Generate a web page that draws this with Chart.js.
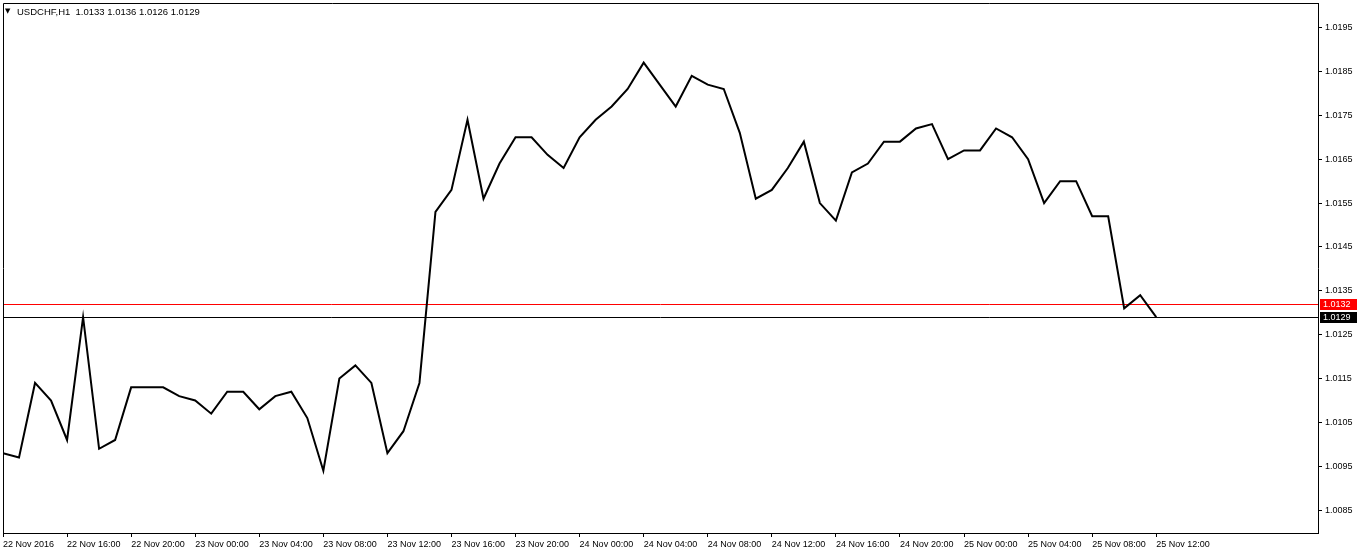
<!DOCTYPE html>
<html>
<head>
<meta charset="utf-8">
<script src="https://cdn.jsdelivr.net/npm/chart.js@4.4.1/dist/chart.umd.min.js"></script>
<style>
html,body{margin:0;padding:0;background:#fff;}
canvas{display:block;}
</style>
</head>
<body>
<canvas id="c" width="1358" height="554"></canvas>
<script>
// ---- data ----
const symbolTitle = 'USDCHF,H1';
const lastOHLC = ['1.0133', '1.0136', '1.0126', '1.0129'];

// hourly closes, 22 Nov 2016 12:00 .. 25 Nov 2016 12:00
const closes = [
  1.0098, 1.0097, 1.0114, 1.0110, 1.0101, 1.0129, 1.0099, 1.0101, 1.0113, 1.0113,
  1.0113, 1.0111, 1.0110, 1.0107, 1.0112, 1.0112, 1.0108, 1.0111, 1.0112, 1.0106,
  1.0094, 1.0115, 1.0118, 1.0114, 1.0098, 1.0103, 1.0114, 1.0153, 1.0158, 1.0174,
  1.0156, 1.0164, 1.0170, 1.0170, 1.0166, 1.0163, 1.0170, 1.0174, 1.0177, 1.0181,
  1.0187, 1.0182, 1.0177, 1.0184, 1.0182, 1.0181, 1.0171, 1.0156, 1.0158, 1.0163,
  1.0169, 1.0155, 1.0151, 1.0162, 1.0164, 1.0169, 1.0169, 1.0172, 1.0173, 1.0165,
  1.0167, 1.0167, 1.0172, 1.0170, 1.0165, 1.0155, 1.0160, 1.0160, 1.0152, 1.0152,
  1.0131, 1.0134, 1.0129
];

const xTickPositions = [0, 4, 8, 12, 16, 20, 24, 28, 32, 36, 40, 44, 48, 52, 56, 60, 64, 68, 72];
const xTickLabels = [
  '22 Nov 2016', '22 Nov 16:00', '22 Nov 20:00', '23 Nov 00:00', '23 Nov 04:00',
  '23 Nov 08:00', '23 Nov 12:00', '23 Nov 16:00', '23 Nov 20:00', '24 Nov 00:00',
  '24 Nov 04:00', '24 Nov 08:00', '24 Nov 12:00', '24 Nov 16:00', '24 Nov 20:00',
  '25 Nov 00:00', '25 Nov 04:00', '25 Nov 08:00', '25 Nov 12:00'
];
const yTickValues = [1.0085, 1.0095, 1.0105, 1.0115, 1.0125, 1.0135, 1.0145, 1.0155, 1.0165, 1.0175, 1.0185, 1.0195];

const askPrice = 1.0132;
const bidPrice = 1.0129;

// ---- chart ----
const FONT = 'Liberation Sans';

const points = closes.map((v, i) => ({ x: i, y: v }));

function noPad(s) {
  s.paddingTop = 0; s.paddingBottom = 0; s.paddingLeft = 0; s.paddingRight = 0;
}

const framePlugin = {
  id: 'frame',
  beforeDatasetsDraw(chart) {
    const { ctx, chartArea: a } = chart;
    const ys = chart.scales.y;
    ctx.save();
    ctx.lineWidth = 1;
    ctx.strokeStyle = '#ff0000';
    let y = Math.round(ys.getPixelForValue(askPrice)) + 0.5;
    ctx.beginPath(); ctx.moveTo(a.left, y); ctx.lineTo(a.right, y); ctx.stroke();
    ctx.strokeStyle = '#000000';
    y = Math.round(ys.getPixelForValue(bidPrice)) + 0.5;
    ctx.beginPath(); ctx.moveTo(a.left, y); ctx.lineTo(a.right, y); ctx.stroke();
    ctx.restore();
  },
  afterDraw(chart) {
    const { ctx, chartArea: a } = chart;
    const ys = chart.scales.y;
    ctx.save();
    // frame top and left
    ctx.strokeStyle = '#000';
    ctx.lineWidth = 1;
    ctx.beginPath();
    ctx.moveTo(Math.round(a.left) + 0.5, Math.round(a.bottom) + 0.5);
    ctx.lineTo(Math.round(a.left) + 0.5, Math.round(a.top) + 0.5);
    ctx.lineTo(Math.round(a.right) + 0.5, Math.round(a.top) + 0.5);
    ctx.stroke();

    // price tags
    const tags = [[askPrice, '#ff0000'], [bidPrice, '#000000']];
    ctx.font = '9px "' + FONT + '"';
    ctx.textBaseline = 'middle';
    ctx.textAlign = 'left';
    for (const [p, col] of tags) {
      const yy = Math.round(ys.getPixelForValue(p));
      ctx.fillStyle = col;
      ctx.fillRect(a.right + 2, yy - 5, 37, 11);
      ctx.fillStyle = '#ffffff';
      ctx.fillText(p.toFixed(4), a.right + 5, yy + 0.5);
    }

    // header
    ctx.fillStyle = '#000000';
    ctx.font = '7px "DejaVu Sans"';
    ctx.textBaseline = 'alphabetic';
    ctx.fillText('\u25BC', 5, 13);
    ctx.font = '9.5px "' + FONT + '"';
    ctx.fillText(symbolTitle + '  ' + lastOHLC.join(' '), 17, 15);
    ctx.restore();
  }
};

new Chart(document.getElementById('c'), {
  type: 'line',
  data: {
    datasets: [{
      data: points,
      borderColor: '#000000',
      borderWidth: 2,
      pointRadius: 0,
      pointHoverRadius: 0,
      tension: 0,
      fill: false
    }]
  },
  options: {
    responsive: false,
    animation: false,
    devicePixelRatio: 1,
    events: [],
    layout: { padding: { left: 3, top: 3, right: 0, bottom: 0 } },
    plugins: {
      legend: { display: false },
      tooltip: { enabled: false },
      title: { display: false }
    },
    scales: {
      x: {
        type: 'linear',
        position: 'bottom',
        min: 0,
        max: 82.1,
        afterBuildTicks: (s) => { s.ticks = xTickPositions.map(v => ({ value: v })); },
        afterFit: (s) => { s.height = 21; noPad(s); },
        grid: { drawOnChartArea: false, drawTicks: true, tickLength: 4, color: '#000', tickColor: '#000' },
        border: { display: true, color: '#000', width: 1 },
        ticks: {
          autoSkip: false,
          maxRotation: 0,
          minRotation: 0,
          align: 'start',
          padding: 2,
          color: '#000',
          font: { family: FONT, size: 9 },
          callback: (v, i) => xTickLabels[i]
        }
      },
      y: {
        type: 'linear',
        position: 'right',
        min: 1.00798,
        max: 1.02006,
        afterBuildTicks: (s) => { s.ticks = yTickValues.map(v => ({ value: v })); },
        afterFit: (s) => { s.width = 40; noPad(s); },
        grid: { drawOnChartArea: false, drawTicks: true, tickLength: 4, color: '#000', tickColor: '#000' },
        border: { display: true, color: '#000', width: 1 },
        ticks: {
          padding: 3,
          color: '#000',
          font: { family: FONT, size: 9 },
          callback: (v) => Number(v).toFixed(4)
        }
      }
    }
  },
  plugins: [framePlugin]
});
</script>
</body>
</html>
